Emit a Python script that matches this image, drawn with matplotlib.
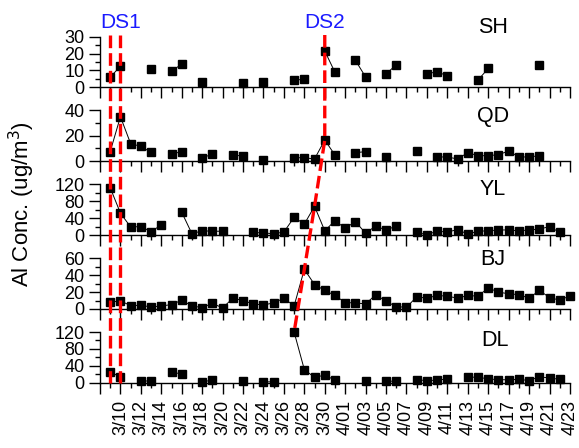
import matplotlib

matplotlib.use("Agg")
import matplotlib.pyplot as plt
import numpy as np
from matplotlib.lines import Line2D
from matplotlib.ticker import MultipleLocator

plt.rcParams["font.family"] = ["Liberation Sans", "DejaVu Sans"]

# daily Al concentration (ug/m3), missing days left out
SH_DATES = ["3/09", "3/10", "3/13", "3/15", "3/16", "3/18", "3/22", "3/24", "3/27", "3/28",
            "3/30", "3/31", "4/02", "4/03", "4/05", "4/06", "4/09", "4/10", "4/11", "4/14",
            "4/15", "4/20"]
SH_VALUES = [6, 12.5, 10.6, 9.5, 13.8, 3.2, 2.4, 3.2, 4.3, 4.7,
             21.5, 8.9, 16, 6.1, 7.9, 13.4, 7.9, 9.3, 6.7, 4.3,
             11.2, 13.2]

QD_DATES = ["3/09", "3/10", "3/11", "3/12", "3/13", "3/15", "3/16", "3/18", "3/19", "3/21",
            "3/22", "3/24", "3/27", "3/28", "3/29", "3/30", "3/31", "4/02", "4/03", "4/05",
            "4/08", "4/10", "4/11", "4/12", "4/13", "4/14", "4/15", "4/16", "4/17", "4/18",
            "4/19", "4/20"]
QD_VALUES = [7.4, 35, 13.7, 11.6, 6.8, 5.5, 7.4, 2.4, 5.5, 4.7,
             3.9, 0.8, 2.6, 2.6, 1.6, 16.6, 4.7, 6.6, 7.4, 3.2,
             7.6, 3.2, 3.2, 1.6, 6.6, 4.2, 4.2, 5, 7.9, 3.2,
             3.2, 4.2]

YL_DATES = ["3/09", "3/10", "3/11", "3/12", "3/13", "3/14", "3/16", "3/17", "3/18", "3/19",
            "3/20", "3/23", "3/24", "3/25", "3/26", "3/27", "3/28", "3/29", "3/30", "3/31",
            "4/01", "4/02", "4/03", "4/04", "4/05", "4/06", "4/08", "4/09", "4/10", "4/11",
            "4/12", "4/13", "4/14", "4/15", "4/16", "4/17", "4/18", "4/19", "4/20", "4/21",
            "4/22"]
YL_VALUES = [112, 52, 19, 20, 8, 24, 54, 3, 10, 9,
             9, 6, 5, 3, 7, 42, 26, 68, 10, 34,
             16, 32, 4, 22, 11, 22, 6, 1, 9, 7,
             13, 2, 9, 10, 12, 12, 10, 12, 14, 20,
             6]

BJ_DATES = ["3/09", "3/10", "3/11", "3/12", "3/13", "3/14", "3/15", "3/16", "3/17", "3/18",
            "3/19", "3/20", "3/21", "3/22", "3/23", "3/24", "3/25", "3/26", "3/27", "3/28",
            "3/29", "3/30", "3/31", "4/01", "4/02", "4/03", "4/04", "4/05", "4/06", "4/07",
            "4/08", "4/09", "4/10", "4/11", "4/12", "4/13", "4/14", "4/15", "4/16", "4/17",
            "4/18", "4/19", "4/20", "4/21", "4/22", "4/23"]
BJ_VALUES = [8, 9.6, 4, 4.4, 2.4, 3.6, 5.2, 10.4, 3.6, 1.6,
             6.8, 1.2, 12.8, 10, 6, 4.8, 7.2, 12.8, 3.6, 47,
             29, 22, 16, 7.6, 7.2, 6, 17, 9, 2.8, 2,
             14.4, 12.8, 16, 15.2, 12.8, 16, 15.2, 25, 20, 18,
             17, 12.8, 22, 13.6, 10.4, 15.6]

DL_DATES = ["3/09", "3/10", "3/12", "3/13", "3/15", "3/16", "3/18", "3/19", "3/22", "3/24",
            "3/25", "3/27", "3/28", "3/29", "3/30", "3/31", "4/03", "4/05", "4/06", "4/08",
            "4/09", "4/10", "4/11", "4/13", "4/14", "4/15", "4/16", "4/17", "4/18", "4/19",
            "4/20", "4/21", "4/22"]
DL_VALUES = [26, 13, 4, 4, 26, 20, 2, 6, 5, 2,
             2, 120, 31, 12.5, 18, 6, 3, 3, 4, 7,
             5, 6, 9, 13, 13, 9, 7, 7, 8, 5,
             14, 11, 8]

STATIONS = ["SH", "QD", "YL", "BJ", "DL"]
YMAX = [30, 40, 120, 60, 120]
YMAJOR = [10, 20, 40, 20, 40]
YMINOR = [5, 10, 20, 10, 20]

# dust storm events: DS1 on two days, DS2 follows each station's peak
DS1_DATES = ["3/09", "3/10"]
DS2_START = "3/26"

TICK_LABELS = ["", "3/10", "3/12", "3/14", "3/16", "3/18", "3/20", "3/22", "3/24", "3/26",
               "3/28", "3/30", "4/01", "4/03", "4/05", "4/07", "4/09", "4/11", "4/13", "4/15",
               "4/17", "4/19", "4/21", "4/23"]
N_DAYS = 47  # 3/08 .. 4/23

# layout (figure fractions) and station label spots (axes fractions)
LEFT, WIDTH, HEIGHT = 0.1727, 0.8117, 0.1130
BOTTOMS = [0.8051, 0.6406, 0.4754, 0.3103, 0.1458]
NAME_POS = [(0.836, 1.19), (0.836, 0.87), (0.836, 0.90), (0.836, 0.98), (0.84, 0.84)]
TOP_Y = 1 - 35 / 448


def day_index(label):
    month, day = (int(p) for p in label.split("/"))
    return day - 8 if month == 3 else 23 + day


def daily_series(dates, values):
    arr = np.full(N_DAYS, np.nan)
    for d, v in zip(dates, values):
        arr[day_index(d)] = v
    return arr


series = [daily_series(d, v) for d, v in [
    (SH_DATES, SH_VALUES), (QD_DATES, QD_VALUES), (YL_DATES, YL_VALUES),
    (BJ_DATES, BJ_VALUES), (DL_DATES, DL_VALUES)]]
days = np.arange(N_DAYS)

fig = plt.figure(figsize=(5.79, 4.48), dpi=100)
axes = []
for i, name in enumerate(STATIONS):
    ax = fig.add_axes([LEFT, BOTTOMS[i], WIDTH, HEIGHT])
    ax.plot(days, series[i], color="black", lw=0.7, marker="s", ms=5.6,
            mec="black", mfc="black", clip_on=False, zorder=3)
    ax.set_xlim(0, N_DAYS - 1)
    ax.set_ylim(0, YMAX[i])
    ax.yaxis.set_major_locator(MultipleLocator(YMAJOR[i]))
    ax.yaxis.set_minor_locator(MultipleLocator(YMINOR[i]))
    ax.set_xticks(range(0, N_DAYS, 2))
    ax.set_xticks(range(0, N_DAYS), minor=True)
    if i == len(STATIONS) - 1:
        ax.set_xticklabels(TICK_LABELS, rotation=90, fontsize=13)
    else:
        ax.set_xticklabels([])
    for side in ("top", "right"):
        ax.spines[side].set_visible(False)
    for side in ("left", "bottom"):
        ax.spines[side].set_linewidth(1.0)
    ax.tick_params(which="major", length=8, width=1.0, labelsize=13, pad=3)
    ax.tick_params(axis="x", which="major", pad=4.5)
    ax.tick_params(which="minor", length=3.8, width=1.0)
    ax.text(*NAME_POS[i], name, transform=ax.transAxes, ha="center", va="center",
            fontsize=15.5)
    axes.append(ax)

fig.text(22 / 579, 0.545, "Al Conc. (ug/m$^3$)", rotation=90, ha="center",
         va="center", fontsize=16)


def to_fig(ax, x, y):
    return fig.transFigure.inverted().transform(ax.transData.transform((x, y)))


dash = dict(color="red", lw=2.4, linestyle=(0, (3.8, 1.5)), zorder=5)

# DS1: vertical lines through all panels
for d in DS1_DATES:
    x = day_index(d)
    fx = to_fig(axes[0], x, 0)[0]
    fy_bot = to_fig(axes[-1], x, 0)[1]
    fig.add_artist(Line2D([fx, fx], [TOP_Y, fy_bot], transform=fig.transFigure, **dash))

# DS2: through each station's peak after the start date
start = day_index(DS2_START)
pts = []
for ax, s in zip(axes, series):
    k = start + int(np.nanargmax(s[start:]))
    pts.append(to_fig(ax, k, s[k]))
pts = [(pts[0][0], TOP_Y)] + pts
fig.add_artist(Line2D([p[0] for p in pts], [p[1] for p in pts],
                      transform=fig.transFigure, **dash))

fig.text(to_fig(axes[0], day_index(DS1_DATES[1]), 0)[0], 1 - 22 / 448, "DS1",
         color="#1a1aff", ha="center", va="center", fontsize=15)
fig.text(pts[0][0], 1 - 22 / 448, "DS2", color="#1a1aff", ha="center", va="center",
         fontsize=15)

fig.savefig("out.png", dpi=100)
